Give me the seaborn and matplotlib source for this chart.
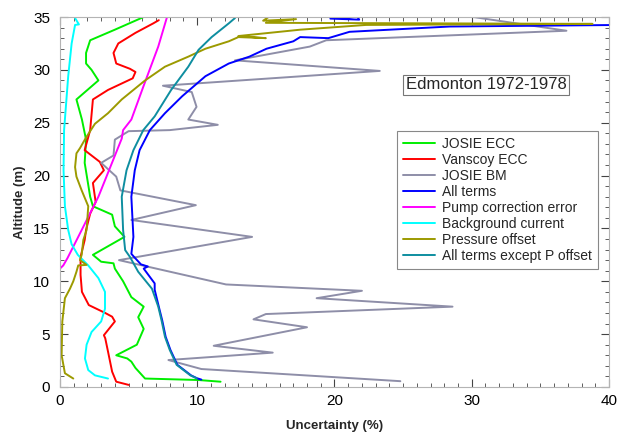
import matplotlib
matplotlib.use("Agg")
import matplotlib.pyplot as plt
from matplotlib.ticker import MultipleLocator
import pandas as pd
import seaborn as sns

# values (uncertainty in %, altitude)
josie_ecc_alt = [0.5, 0.66, 0.8, 1.8, 2.4, 2.7, 3.0, 4.0, 5.5, 6.6, 7.6, 8.5, 10.0, 11.2, 11.7, 11.85, 12.5,
                 14.2, 15.2, 16.3, 17.1, 18.0, 21.2, 23.4, 25.3, 27.2, 29.0, 30.0, 30.6, 31.6, 32.8, 33.8, 35.0]
josie_ecc_unc = [11.7, 10.1, 6.2, 5.5, 5.2, 4.9, 4.1, 5.6, 6.1, 5.7, 6.1, 5.2, 4.6, 4.0, 3.9, 3.0, 2.4,
                 4.7, 4.0, 3.8, 2.4, 2.2, 1.8, 1.9, 1.6, 1.2, 2.8, 2.3, 1.9, 1.9, 2.2, 4.0, 6.1]

vanscoy_alt = [0.2, 0.5, 1.45, 3.35, 4.6, 4.9, 6.2, 6.65, 7.0, 7.75, 9.0, 10.6, 12.3, 13.9, 14.85, 16.4,
               17.5, 19.3, 20.5, 21.3, 22.4, 24.3, 27.2, 28.1, 29.2, 29.8, 30.1, 30.6, 31.6, 32.5, 33.5, 34.4, 34.7]
vanscoy_unc = [5.0, 4.1, 3.8, 3.5, 3.3, 3.2, 4.0, 3.8, 3.3, 2.1, 1.6, 1.5, 1.5, 1.8, 1.9, 2.2,
               2.6, 2.4, 3.2, 2.9, 1.8, 2.2, 2.4, 3.5, 5.3, 5.5, 5.1, 4.1, 3.9, 4.25, 5.5, 6.8, 7.2]

josie_bm_alt = [0.55, 1.7, 2.55, 3.25, 3.9, 5.65, 6.4, 6.9, 7.6, 8.4, 9.1, 9.7, 12.0, 14.2, 15.8, 17.2,
                18.6, 19.9, 21.2, 21.9, 23.4, 24.2, 24.3, 24.8, 25.3, 26.5, 27.9, 28.5, 29.9, 30.9, 32.2,
                32.8, 33.7, 35.0]
josie_bm_unc = [24.8, 10.3, 7.9, 15.5, 11.2, 18.0, 14.1, 15.0, 28.6, 18.7, 22.0, 12.1, 4.3, 14.0, 5.2, 9.9,
                4.4, 4.1, 3.0, 3.9, 4.0, 5.0, 8.0, 11.5, 9.35, 9.95, 9.6, 7.5, 23.3, 12.75, 18.2,
                19.4, 36.9, 30.1]

all_terms_alt = [0.7, 0.82, 1.1, 2.1, 3.5, 4.75, 6.3, 7.6, 9.2, 9.8, 10.5, 11.2, 11.4, 11.6, 12.3, 12.6,
                 14.2, 18.0, 20.5, 22.4, 24.3, 25.9, 27.5, 29.4, 30.6, 31.25, 32.0, 32.7, 33.1, 33.0,
                 33.6, 34.1, 34.25, 35.4, 35.3, 34.85, 34.75, 35.4]
all_terms_unc = [10.3, 10.0, 9.55, 8.55, 8.05, 7.7, 7.45, 7.2, 6.9, 6.9, 6.5, 6.1, 6.4, 5.9, 5.4, 5.2,
                 5.35, 5.2, 5.45, 5.8, 6.55, 7.65, 8.9, 10.6, 12.3, 13.8, 15.05, 17.0, 17.5, 19.55,
                 21.1, 28.4, 41.0, 42.0, 25.0, 19.7, 21.8, 21.5]

pump_alt = [0.8, 11.2, 11.5, 12.2, 14.2, 18.0, 23.5, 24.3, 25.3, 28.4, 32.2, 35.0]
pump_unc = [0.0, 0.0, 0.24, 0.55, 1.33, 2.8, 4.5, 4.6, 5.2, 6.07, 7.16, 7.8]

background_alt = [0.8, 1.1, 1.6, 2.7, 4.0, 5.2, 6.2, 7.4, 9.0, 10.3, 11.5, 12.5, 13.5, 14.85, 17.1, 20.5,
                  24.3, 29.4, 32.5, 34.25, 34.3, 34.9]
background_unc = [3.5, 2.55, 2.06, 1.82, 1.94, 2.3, 3.0, 3.28, 3.28, 2.8, 2.06, 1.3, 0.85, 0.6, 0.36, 0.26,
                  0.3, 0.6, 0.85, 1.1, 1.38, 1.1]

pressure_alt = [0.8, 1.3, 3.0, 6.2, 8.4, 9.3, 10.0, 10.9, 11.5, 11.55, 12.0, 12.5, 13.9, 14.85, 17.1, 18.6,
                19.9, 20.8, 22.1, 22.6, 23.6, 24.9, 25.9, 27.2, 29.0, 30.3, 31.25, 32.0, 32.7, 33.1, 33.0,
                33.2, 33.8, 34.25, 34.35, 34.45, 34.8, 34.65, 35.0]
pressure_unc = [0.97, 0.36, 0.12, 0.17, 0.36, 0.73, 0.97, 1.2, 1.33, 1.94, 1.46, 1.58, 1.7, 1.94, 2.06, 1.58,
                1.2, 1.1, 1.2, 1.46, 1.9, 2.55, 3.5, 4.5, 6.2, 7.65, 9.35, 10.6, 12.3, 13.0, 15.0,
                13.0, 17.5, 22.3, 38.8, 15.0, 17.2, 14.8, 15.2]

no_poff_alt = [0.82, 1.1, 2.1, 3.5, 4.75, 6.3, 7.6, 9.3, 10.1, 10.9, 12.3, 12.95, 14.85, 18.0, 20.5, 22.4,
               24.3, 25.6, 28.1, 30.3, 31.9, 33.1, 34.4, 34.9]
no_poff_unc = [9.96, 9.5, 8.5, 8.0, 7.65, 7.4, 7.16, 6.7, 6.2, 5.7, 5.1, 4.75, 4.6, 4.5, 4.85, 5.35,
               6.07, 6.9, 8.1, 9.35, 10.1, 11.05, 12.3, 12.75]

series = [
    ("JOSIE ECC", josie_ecc_unc, josie_ecc_alt, "#00ee00"),
    ("Vanscoy ECC", vanscoy_unc, vanscoy_alt, "#ff0000"),
    ("JOSIE BM", josie_bm_unc, josie_bm_alt, "#8e8ea8"),
    ("All terms", all_terms_unc, all_terms_alt, "#0000ff"),
    ("Pump correction error", pump_unc, pump_alt, "#ff00ff"),
    ("Background current", background_unc, background_alt, "#00ffff"),
    ("Pressure offset", pressure_unc, pressure_alt, "#9c9a00"),
    ("All terms except P offset", no_poff_unc, no_poff_alt, "#0e8ea0"),
]

sns.set_style("ticks")
plt.rcParams["font.family"] = ["Liberation Sans", "DejaVu Sans"]

fig = plt.figure(figsize=(6.17, 4.36), dpi=100)
ax = fig.add_axes([0.0972, 0.1124, 0.8898, 0.8486])

for name, unc, alt, col in series:
    df = pd.DataFrame({"unc": unc, "alt": alt})
    sns.lineplot(data=df, x="unc", y="alt", sort=False, estimator=None,
                 color=col, linewidth=1.4, label=name, ax=ax)

ax.set_xlim(0, 40)
ax.set_ylim(0, 35)
ax.xaxis.set_major_locator(MultipleLocator(10))
ax.xaxis.set_minor_locator(MultipleLocator(1))
ax.yaxis.set_major_locator(MultipleLocator(5))
ax.yaxis.set_minor_locator(MultipleLocator(1))
ax.tick_params(which="both", direction="in", top=True, right=True, colors="#444444",
               labelcolor="black", labelsize=11)
ax.tick_params(which="major", length=6, width=0.8)
ax.tick_params(which="minor", length=3, width=0.6)
ax.tick_params(axis="y", pad=7)
ax.tick_params(axis="x", pad=5)
for sp in ax.spines.values():
    sp.set_color("#b4b4b4")
    sp.set_linewidth(0.8)

ax.set_xlabel("Uncertainty (%)", fontsize=9.5, fontweight="bold", labelpad=9)
ax.set_ylabel("Altitude (m)", fontsize=9.5, fontweight="bold", labelpad=5)

leg = ax.legend(loc="upper left", bbox_to_anchor=(0.614, 0.692), fontsize=10,
                fancybox=False, edgecolor="#888888", framealpha=1, handlelength=2.3,
                labelspacing=0.15, borderpad=0.4, handletextpad=0.55, borderaxespad=0)
leg.get_frame().set_linewidth(0.8)

ax.text(25.2, 28.6, "Edmonton 1972-1978", fontsize=12, va="center", ha="left",
        bbox=dict(boxstyle="square,pad=0.15", fc="white", ec="#777777", lw=0.8))

fig.savefig("out.png", dpi=100)
